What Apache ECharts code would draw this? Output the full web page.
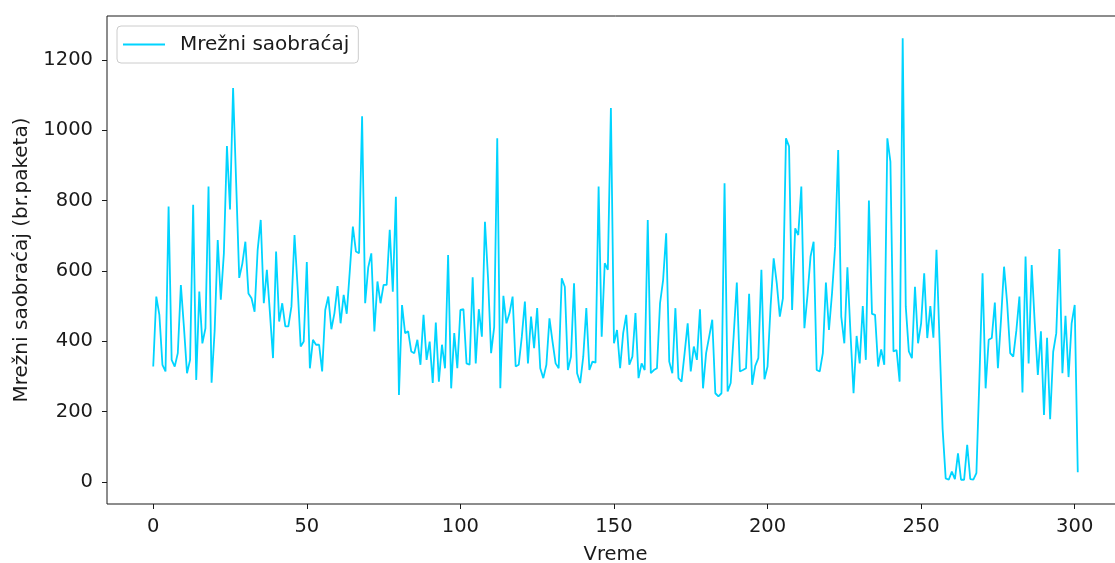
<!DOCTYPE html>
<html>
<head>
<meta charset="utf-8">
<script src="https://cdn.jsdelivr.net/npm/echarts@6/dist/echarts.min.js"></script>
<style>
  html, body { margin: 0; padding: 0; background: #fff; overflow: hidden; }
  /* the plot frame runs slightly past the right edge of the window */
  #wrap { position: relative; width: 1115px; height: 563px; overflow: hidden; }
  #chart { position: absolute; left: 0; top: 0; width: 1130px; height: 563px; }
</style>
</head>
<body>
<div id="wrap"><div id="chart"></div></div>
<script>
// Network traffic (packets) per time step
const traffic = [
  328, 527, 475, 333, 314, 783, 347, 328, 366, 560,
  440, 309, 347, 788, 290, 541, 394, 437, 840, 282,
  430, 688, 518, 650, 955, 775, 1120, 850, 580, 620,
  683, 536, 522, 484, 660, 745, 508, 603, 480, 352,
  655, 456, 508, 442, 442, 499, 702, 555, 385, 399,
  625, 323, 404, 390, 390, 314, 489, 527, 434, 480,
  557, 451, 532, 478, 600, 726, 655, 650, 1040, 508,
  610, 650, 428, 570, 508, 560, 560, 717, 541, 811,
  247, 503, 423, 428, 371, 366, 404, 333, 475, 347,
  399, 281, 453, 285, 390, 323, 645, 266, 423, 323,
  489, 491, 337, 333, 582, 337, 491, 413, 740, 580,
  366, 440, 977, 266, 529, 451, 480, 527, 328, 333,
  413, 513, 337, 470, 380, 494, 323, 295, 333, 465,
  399, 337, 323, 579, 555, 318, 356, 565, 309, 281,
  356, 494, 318, 342, 339, 840, 413, 622, 603, 1063,
  394, 432, 323, 423, 475, 333, 356, 480, 295, 337,
  318, 745, 309, 318, 323, 508, 574, 707, 342, 309,
  494, 295, 285, 366, 451, 314, 385, 347, 491, 266,
  366, 413, 461, 252, 243, 252, 849, 257, 281, 420,
  567, 314, 318, 323, 535, 276, 330, 352, 603, 292,
  328, 500, 636, 565, 470, 522, 977, 954, 489, 721,
  702, 840, 437, 530, 641, 683, 318, 314, 366, 567,
  432, 537, 669, 944, 470, 394, 610, 423, 252, 415,
  337, 500, 347, 800, 478, 475, 328, 377, 333, 977,
  911, 371, 375, 285, 1262, 499, 371, 352, 555, 394,
  451, 593, 409, 500, 410, 660, 400, 150, 10, 6,
  29, 8, 81, 6, 6, 105, 8, 6, 25, 300,
  593, 266, 404, 409, 510, 323, 460, 612, 510, 366,
  356, 430, 527, 254, 641, 337, 617, 450, 304, 428,
  190, 410, 178, 370, 423, 662, 309, 472, 298, 451,
  503, 27
];
const xTicks = [0, 50, 100, 150, 200, 250, 300];
const yTicks = [0, 200, 400, 600, 800, 1000, 1200];
const seriesName = 'Mrežni saobraćaj';
const xTitle = 'Vreme';
const yTitle = 'Mrežni saobraćaj (br.paketa)';

const points = traffic.map((v, i) => [i, v]);
const font = 'DejaVu Sans';
const fs = 19.5;
const textColor = '#1a1a1a';
const lineColor = '#00d4ff';

const chart = echarts.init(document.getElementById('chart'), null, { renderer: 'canvas' });
chart.setOption({
  animation: false,
  backgroundColor: '#fff',
  grid: {
    left: 107, top: 16, width: 1017, height: 488,
    containLabel: false, outerBoundsMode: 'none',
    show: true, borderColor: '#1a1a1a', borderWidth: 1, backgroundColor: 'transparent'
  },
  legend: {
    left: 117, top: 26,
    data: [seriesName],
    icon: 'rect',
    itemWidth: 42, itemHeight: 2,
    itemGap: 10,
    padding: [8, 9, 8, 6],
    borderColor: '#cccccc', borderWidth: 1, borderRadius: 4,
    backgroundColor: '#fff',
    textStyle: { fontFamily: font, fontSize: 20, lineHeight: 21, color: textColor, padding: [0, 0, 0, 10] }
  },
  xAxis: {
    type: 'value',
    min: -15.05, max: 316.05,
    name: xTitle, nameLocation: 'middle', nameGap: 41,
    nameTextStyle: { fontFamily: font, fontSize: fs, color: textColor },
    axisLine: { show: false, onZero: false },
    splitLine: { show: false },
    axisTick: { show: true, length: 5, customValues: xTicks, lineStyle: { color: '#1a1a1a', width: 1 } },
    axisLabel: { customValues: xTicks, margin: 13, fontFamily: font, fontSize: fs, color: textColor,
                 formatter: v => String(v) }
  },
  yAxis: {
    type: 'value',
    min: -63, max: 1325,
    name: yTitle, nameLocation: 'middle', nameGap: 75,
    nameTextStyle: { fontFamily: font, fontSize: 20, color: textColor },
    axisLine: { show: false, onZero: false },
    splitLine: { show: false },
    axisTick: { show: true, length: 5, customValues: yTicks, lineStyle: { color: '#1a1a1a', width: 1 } },
    axisLabel: { customValues: yTicks, margin: 14, fontFamily: font, fontSize: fs, color: textColor,
                 formatter: v => String(v) }
  },
  series: [{
    name: seriesName,
    type: 'line',
    data: points,
    showSymbol: false,
    symbol: 'none',
    lineStyle: { color: lineColor, width: 1.8 },
    itemStyle: { color: lineColor }
  }]
});
</script>
</body>
</html>
